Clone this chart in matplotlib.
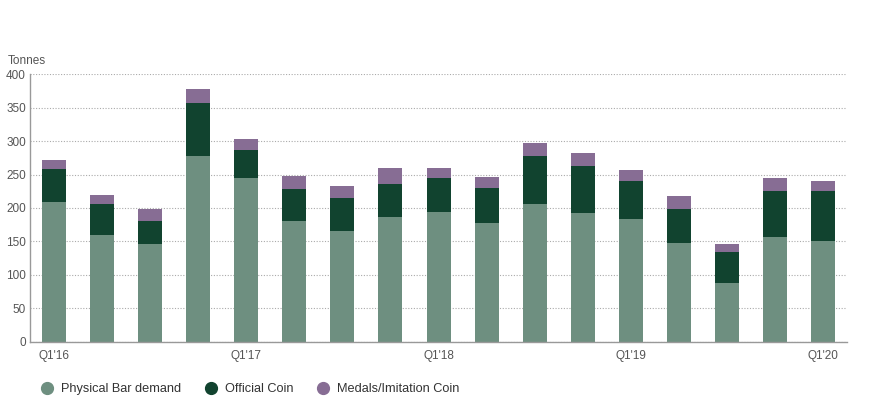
import matplotlib
matplotlib.use("Agg")
import matplotlib.pyplot as plt
from matplotlib.lines import Line2D
import numpy as np

plt.rcParams['font.family'] = ['Liberation Sans', 'DejaVu Sans']

quarters = ["Q1'16", "Q2'16", "Q3'16", "Q4'16",
            "Q1'17", "Q2'17", "Q3'17", "Q4'17",
            "Q1'18", "Q2'18", "Q3'18", "Q4'18",
            "Q1'19", "Q2'19", "Q3'19", "Q4'19",
            "Q1'20"]
physical_bar = [209, 160, 147, 278, 245, 181, 165, 187, 194, 178, 206, 193, 184, 148, 88.5, 156, 150]
official_coin = [49, 46, 34, 78, 42, 47, 50, 49, 51, 52, 72, 69, 56, 50, 45.5, 69, 75]
medals = [14, 13, 18, 22, 16, 20, 18, 23, 15, 17, 19, 20, 17, 20, 13, 20, 15]
shown_ticks = ["Q1'16", "Q1'17", "Q1'18", "Q1'19", "Q1'20"]

c_phys = '#6e8f80'
c_off = '#11432f'
c_med = '#876d94'

fig = plt.figure(figsize=(8.76, 3.99), dpi=100)
ax = fig.add_axes([0.0342, 0.1429, 0.9328, 0.6716])

x = np.arange(len(quarters))
phys = np.array(physical_bar)
off = np.array(official_coin)
med = np.array(medals)
w = 0.5
ax.bar(x, phys, w, color=c_phys, zorder=2)
ax.bar(x, off, w, bottom=phys, color=c_off, zorder=2)
ax.bar(x, med, w, bottom=phys + off, color=c_med, zorder=2)

ax.set_xlim(-0.5, len(quarters) - 0.5)
ax.set_ylim(0, 400)
ax.set_yticks(np.arange(0, 401, 50))
ax.yaxis.grid(True, linestyle=(0, (1, 1.5)), color='#aaaaaa', linewidth=0.8, zorder=0)
ax.set_axisbelow(True)

ticks = [quarters.index(q) for q in shown_ticks]
ax.set_xticks(ticks)
ax.set_xticklabels(shown_ticks)

for s in ['top', 'right']:
    ax.spines[s].set_visible(False)
for s in ['left', 'bottom']:
    ax.spines[s].set_color('#999999')
    ax.spines[s].set_linewidth(1)
ax.tick_params(axis='both', length=0, labelsize=8.5, colors='#555555', pad=3)
ax.tick_params(axis='x', pad=6)

fig.text(0.009, 0.84, 'Tonnes', fontsize=8.5, color='#555555')

handles = [Line2D([], [], marker='o', linestyle='', markersize=8.5, color=c) for c in (c_phys, c_off, c_med)]
fig.legend(handles, ['Physical Bar demand', 'Official Coin', 'Medals/Imitation Coin'],
           loc='lower left', bbox_to_anchor=(0.026, -0.02), ncol=3, frameon=False,
           fontsize=9.2, handletextpad=0.12, columnspacing=1.3, labelcolor='#333333')

fig.savefig('out.png', dpi=100)
